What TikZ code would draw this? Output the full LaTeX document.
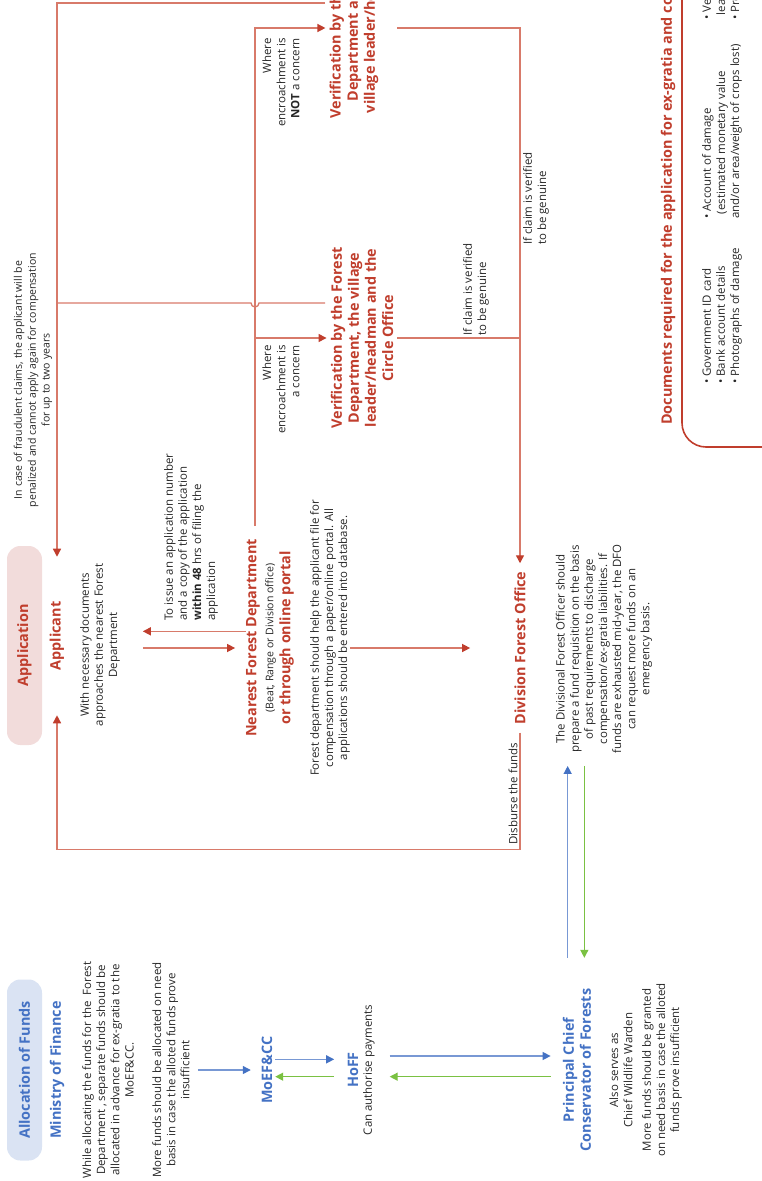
\documentclass[tikz,border=0pt]{standalone}
\usepackage{fontspec}
\setmainfont{Open Sans}
\usetikzlibrary{arrows.meta}

\definecolor{fundblue}{RGB}{68,114,196}
\definecolor{fundline}{RGB}{120,152,212}
\definecolor{fundgreen}{RGB}{122,193,66}
\definecolor{appred}{RGB}{192,62,45}
\definecolor{appline}{RGB}{216,122,106}
\definecolor{pillblue}{RGB}{218,227,243}
\definecolor{pillpink}{RGB}{242,220,219}
\definecolor{ink}{RGB}{38,38,38}

\newcommand{\bodyfont}{\fontsize{8.6}{10.6}\selectfont}
\newcommand{\smallfont}{\fontsize{7.9}{10.4}\selectfont}
\newcommand{\headfont}{\fontsize{10.8}{12.8}\selectfont\bfseries}

\tikzset{
  body/.style={rotate=90, align=center, font=\bodyfont, text=ink, inner sep=0pt},
  head/.style={rotate=90, align=center, font=\headfont, inner sep=0pt},
  bluehead/.style={head, text=fundblue},
  redhead/.style={head, text=appred},
  pill/.style={rotate=90, rounded corners=10pt, minimum height=26.25pt, font=\headfont},
  redline/.style={draw=appline, line width=1pt},
  redarrow/.style={redline, -{Triangle[length=6pt,width=6pt,color=appred]}},
  bluearrow/.style={draw=fundline, line width=1pt, -{Triangle[length=6pt,width=6pt,color=fundblue]}},
  greenarrow/.style={draw=fundgreen, line width=1pt, -{Triangle[length=6pt,width=6pt]}},
}

\begin{document}
\begin{tikzpicture}[x=0.75pt,y=0.75pt,yscale=-1,xscale=1]
\useasboundingbox (0,0) rectangle (762,1181);
\clip (0,0) rectangle (762,1181);

% Allocation of funds
\node[pill, fill=pillblue, text=fundblue, minimum width=135.75pt] (allocpill) at (24.5,1070) {Allocation of Funds};
\node[bluehead] (mof) at (57,1070) {Ministry of Finance};
\node[body] (mofa) at (108,1070) {While allocating the funds for the \ Forest\\Department , separate funds should be\\allocated in advance for ex-gratia to the\\MoEF\&CC.};
\node[body] (mofb) at (171,1070) {More funds should be allocated on need\\basis in case the alloted funds prove\\insufficient};
\node[bluehead] (moefcc) at (267,1070) {MoEF\&CC};
\node[bluehead] (hoff) at (353,1070) {HoFF};
\node[body] (hofftxt) at (369,1070) {Can authorise payments};
\node[bluehead] (pccf) at (577,1070) {Principal Chief\\Conservator of Forests};
\node[body] (pccfa) at (621,1070) {Also serves as\\Chief Wildlife Warden};
\node[body] (pccfb) at (662,1070) {More funds should be granted\\on need basis in case the alloted\\funds prove insufficient};

% Application
\node[pill, fill=pillpink, text=appred, minimum width=149.25pt] (applpill) at (24.5,645.5) {Application};
\node[body, font=\smallfont] (fraudtxt) at (33,380) {In case of fraudulent claims, the applicant will be\\penalized and cannot apply again for compensation\\for up to two years};
\node[redhead, minimum width=118.5pt] (applicant) at (57,636) {Applicant};
\node[body] (appltxt) at (100,645) {With necessary documents\\approaches the nearest Forest\\Department};
\node[body, align=left, anchor=west] (issuetxt) at (191,621) {To issue an application number\\and a copy of the application\\\textbf{within 48} hrs of filing the\\application};
\node[redhead] (nearest) at (270,638) {Nearest Forest Department\\{\mdseries\smallfont\color{ink}(Beat, Range or Division office)}\\or through online portal};
\node[body] (nearesttxt) at (330,638) {Forest department should help the applicant file for\\compensation through a paper/online portal. All\\applications should be entered into database.};
\node[body, align=right, anchor=east] (wherenot) at (281,38) {Where\\encroachment is\\\textbf{NOT} a concern};
\node[body, align=right, anchor=east] (whereis) at (281,345) {Where\\encroachment is\\a concern};
\node[redhead, inner sep=3pt] (vnot) at (354,28) {Verification by the Forest\\Department and the\\village leader/headman};
\node[redhead, inner sep=3pt] (vconc) at (362,338) {Verification by the Forest\\Department, the village\\leader/headman and the\\Circle Office};
\node[body, align=left, anchor=west] (genlow) at (476,336) {If claim is verified\\to be genuine};
\node[body, align=left, anchor=west] (genup) at (536,245) {If claim is verified\\to be genuine};
\node[redhead, inner xsep=6pt, inner ysep=33pt] (dfo) at (520,648) {Division Forest Office};
\node[body] (dfotxt) at (604,649) {The Divisional Forest Officer should\\prepare a fund requisition on the basis\\of past requirements to discharge\\compensation/ex-gratia liabilities. If\\funds are exhausted mid-year, the DFO\\can request more funds on an\\emergency basis.};
\node[body, anchor=east] (disburse) at (513,743) {Disburse the funds};

% documents
\draw[draw=appred, line width=1.2pt, rounded corners=18pt] (682,-40) rectangle (820,447);
\node[redhead, anchor=west] (doctitle) at (668,425) {Documents required for the application for ex-gratia and compensation};
\node[body, align=left, anchor=west] (doclista) at (722,384) {• Government ID card\\• Bank account details\\• Photographs of damage};
\node[body, align=left, anchor=west] (doclistb) at (722,219) {• Account of damage\\\hspace{3.5pt}(estimated monetary value\\and/or area/weight of crops lost)};
\node[body, align=left, anchor=west] (doclistc) at (722,20) {• Verification from the village\\\hspace{3.5pt}leader/headman\\• Proof of ownership};

% red connectors
\coordinate (split) at (255,526);
\coordinate (fraudtop) at (325,3);
\coordinate (fraudmid) at (325,303);
\coordinate (hop) at (split |- fraudmid);
\draw[redarrow] (fraudtop) -| (applicant.east);
\draw[redline] (fraudmid) -- ([xshift=3pt]hop) arc[start angle=0, end angle=180, radius=3pt] -- (applicant.east |- fraudmid);
\draw[redarrow] (split) |- (vnot.north);
\draw[redarrow] (split |- vconc.north) -- (vconc.north);
\draw[redarrow] (vconc.south |- vnot.south) -| (dfo.east);
\draw[redline] (vconc.south) -- (vconc.south -| dfo.east);
\draw[redarrow] (nearesttxt.south |- dfo.center) -- (dfo.north);
\draw[redarrow] (dfo.west) -- ++(0,117) -| (applicant.west);
\draw[redarrow, shorten >=17pt] ([yshift=-5pt]nearest.north) -- ([yshift=-5pt]nearest.north -| appltxt.south);
\draw[redarrow, shorten <=17pt, shorten >=8pt] ([yshift=7.5pt]nearest.north -| appltxt.south) -- ([yshift=7.5pt]nearest.north);

% blue and green connectors
\draw[bluearrow, shorten <=6pt, shorten >=8pt] (mofb.south) -- (moefcc.north);
\draw[bluearrow, shorten <=2pt, shorten >=10pt] ([yshift=-8pt]moefcc.south) -- ([yshift=-8pt]hoff.north);
\draw[greenarrow, shorten <=10pt, shorten >=2pt] ([yshift=5pt]hoff.north) -- ([yshift=5pt]moefcc.south);
\draw[bluearrow, shorten <=11pt, shorten >=9pt] ([yshift=-10.5pt]hofftxt.south) -- ([yshift=-10.5pt]pccf.north);
\draw[greenarrow, shorten <=9pt, shorten >=11pt] ([yshift=5pt]pccf.north) -- ([yshift=5pt]hofftxt.south);
\draw[bluearrow, shorten <=23pt, shorten >=9pt] ([xshift=-7pt]pccf.east) -- ([xshift=-7pt]pccf.east |- dfotxt.west);
\draw[greenarrow, shorten <=9pt, shorten >=23pt] ([xshift=5.5pt]pccf.east |- dfotxt.west) -- ([xshift=5.5pt]pccf.east);

\end{tikzpicture}
\end{document}
